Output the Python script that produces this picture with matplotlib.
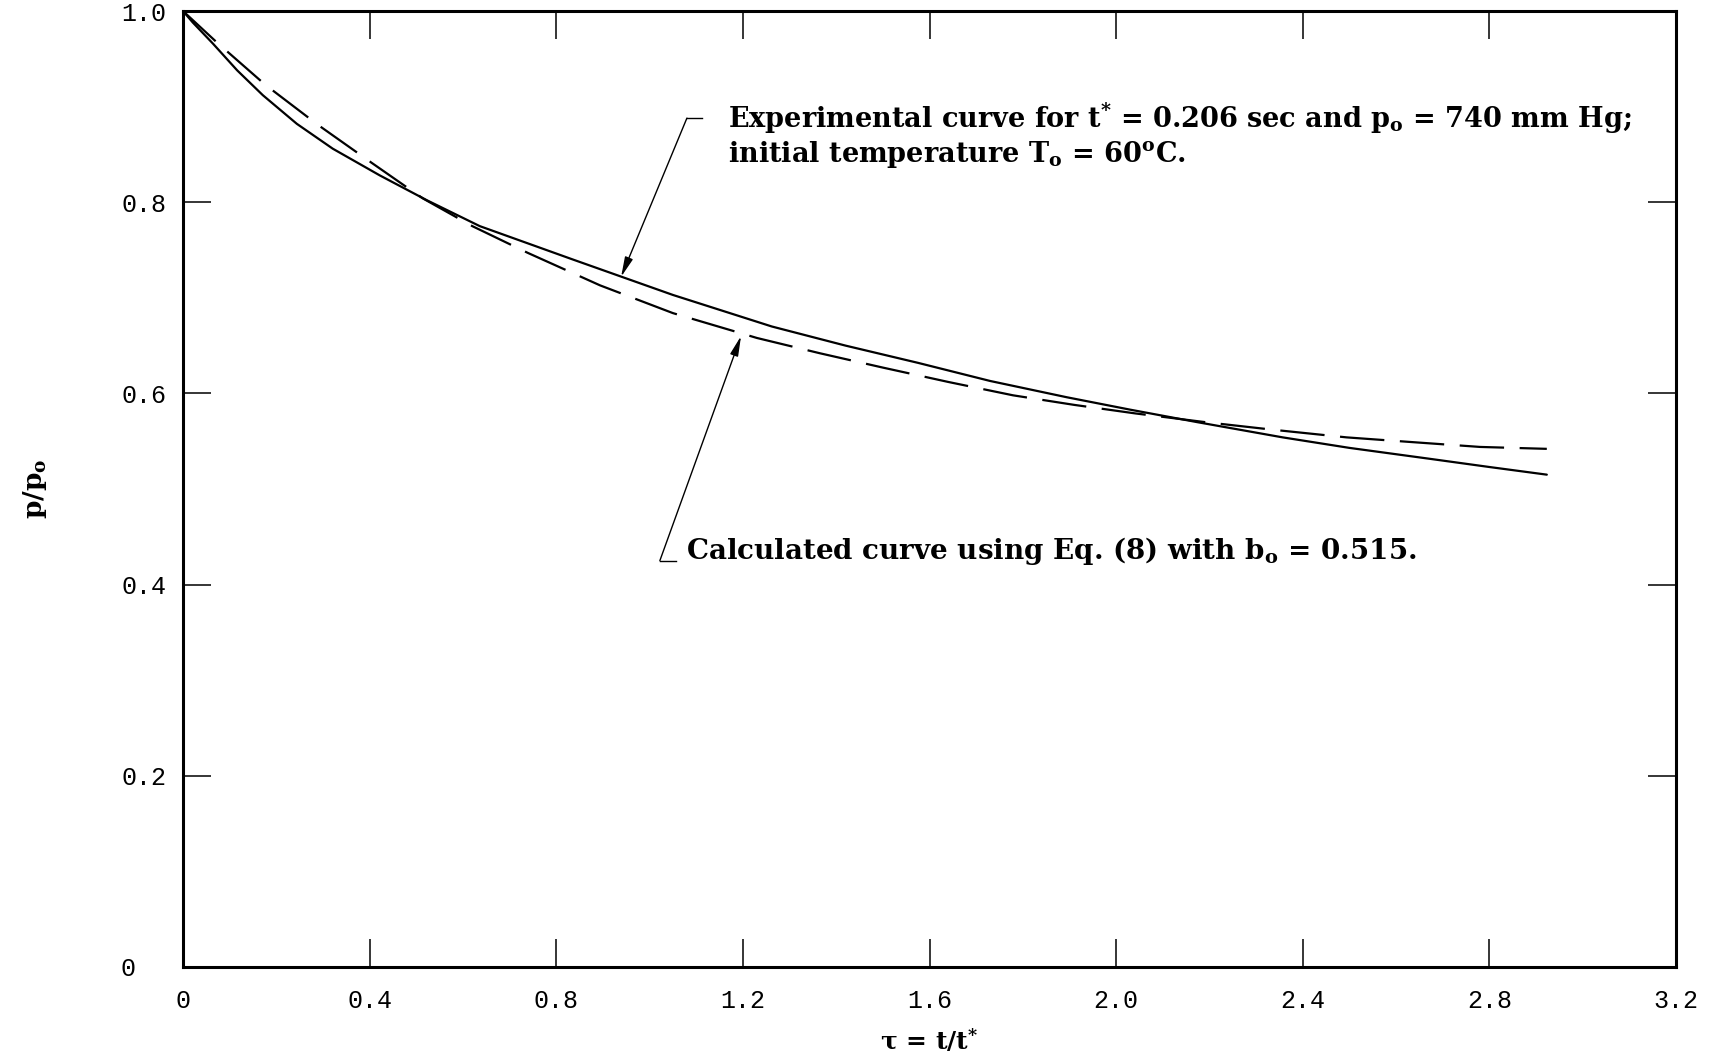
import matplotlib
matplotlib.use("Agg")
import matplotlib.pyplot as plt

plt.rcParams['font.family'] = ['DejaVu Serif']
plt.rcParams['mathtext.fontset'] = 'dejavuserif'

# experimental curve (solid)
tau_exp = [0.0, 0.021, 0.064, 0.116, 0.171, 0.244, 0.321, 0.422, 0.523, 0.636, 0.836, 1.05,
           1.262, 1.42, 1.575, 1.73, 1.894, 2.03, 2.173, 2.357, 2.5, 2.666, 2.8, 2.923]
p_exp = [1.0, 0.988, 0.966, 0.938, 0.912, 0.882, 0.856, 0.828, 0.802, 0.775, 0.740, 0.703,
         0.670, 0.650, 0.632, 0.613, 0.596, 0.583, 0.570, 0.554, 0.543, 0.532, 0.523, 0.515]

# calculated curve (dashed)
tau_calc = [0.0, 0.073, 0.176, 0.289, 0.405, 0.514, 0.620, 0.739, 0.894, 1.05, 1.230, 1.365,
            1.500, 1.64, 1.779, 1.91, 2.042, 2.19, 2.336, 2.494, 2.636, 2.78, 2.923]
p_calc = [1.0, 0.967, 0.923, 0.881, 0.841, 0.804, 0.775, 0.747, 0.713, 0.684, 0.658, 0.642,
          0.627, 0.612, 0.598, 0.588, 0.579, 0.570, 0.562, 0.554, 0.549, 0.544, 0.542]

xticks = [0, 0.4, 0.8, 1.2, 1.6, 2.0, 2.4, 2.8, 3.2]
xticklabels = ['0', '0.4', '0.8', '1.2', '1.6', '2.0', '2.4', '2.8', '3.2']
yticks = [0, 0.2, 0.4, 0.6, 0.8, 1.0]
yticklabels = ['0  ', '0.2', '0.4', '0.6', '0.8', '1.0']

exp_text = ("Experimental curve for t$^{\\mathbf{*}}$ = 0.206 sec and p$_{\\mathbf{o}}$ = 740 mm Hg;\n"
            "initial temperature T$_{\\mathbf{o}}$ = 60$^{\\mathbf{o}}$C.")
calc_text = "Calculated curve using Eq. (8) with b$_{\\mathbf{o}}$ = 0.515."

# leader lines: arrow tip, corner, end of the short horizontal stroke
exp_tip, exp_corner, exp_end = (0.939, 0.722), (1.080, 0.888), (1.112, 0.888)
calc_tip, calc_corner, calc_end = (1.196, 0.660), (1.022, 0.425), (1.057, 0.425)

fig = plt.figure(figsize=(17.12, 10.62), dpi=100)
ax = fig.add_axes([0.1069, 0.0895, 0.8721, 0.9001])

ax.plot(tau_exp, p_exp, color='black', lw=1.6, solid_capstyle='round')
ax.plot(tau_calc, p_calc, color='black', lw=1.6, dashes=(20, 7))

ax.set_xlim(0, 3.2)
ax.set_ylim(0, 1.0)
ax.set_xticks(xticks)
ax.set_xticklabels(xticklabels, family='Liberation Mono', fontsize=18)
ax.set_yticks(yticks)
ax.set_yticklabels(yticklabels, family='Liberation Mono', fontsize=18)
ax.tick_params(direction='in', length=20, width=1.1, top=True, right=True)
ax.tick_params(axis='x', pad=16)
ax.tick_params(axis='y', pad=12)
for s in ax.spines.values():
    s.set_linewidth(2.2)

ax.set_xlabel("τ = t/t$^{\\mathbf{*}}$", fontsize=18, fontweight='bold', labelpad=10)
ax.set_ylabel("p/p$_{\\mathbf{o}}$", fontsize=19, fontweight='bold', labelpad=52)

ax.text(1.168, 0.870, exp_text, fontsize=19.5, fontweight='bold', va='center', ha='left',
        linespacing=1.15)
ax.text(1.077, 0.435, calc_text, fontsize=20, fontweight='bold', va='center', ha='left')

arrow = dict(arrowstyle='-|>,head_length=1.2,head_width=0.25', color='black', lw=1.0,
             shrinkA=0, shrinkB=0)
ax.annotate('', xy=exp_tip, xytext=exp_corner, arrowprops=arrow)
ax.plot([exp_corner[0], exp_end[0]], [exp_corner[1], exp_end[1]], color='black', lw=1.0)
ax.annotate('', xy=calc_tip, xytext=calc_corner, arrowprops=arrow)
ax.plot([calc_corner[0], calc_end[0]], [calc_corner[1], calc_end[1]], color='black', lw=1.0)

fig.savefig('out.png', dpi=100)
